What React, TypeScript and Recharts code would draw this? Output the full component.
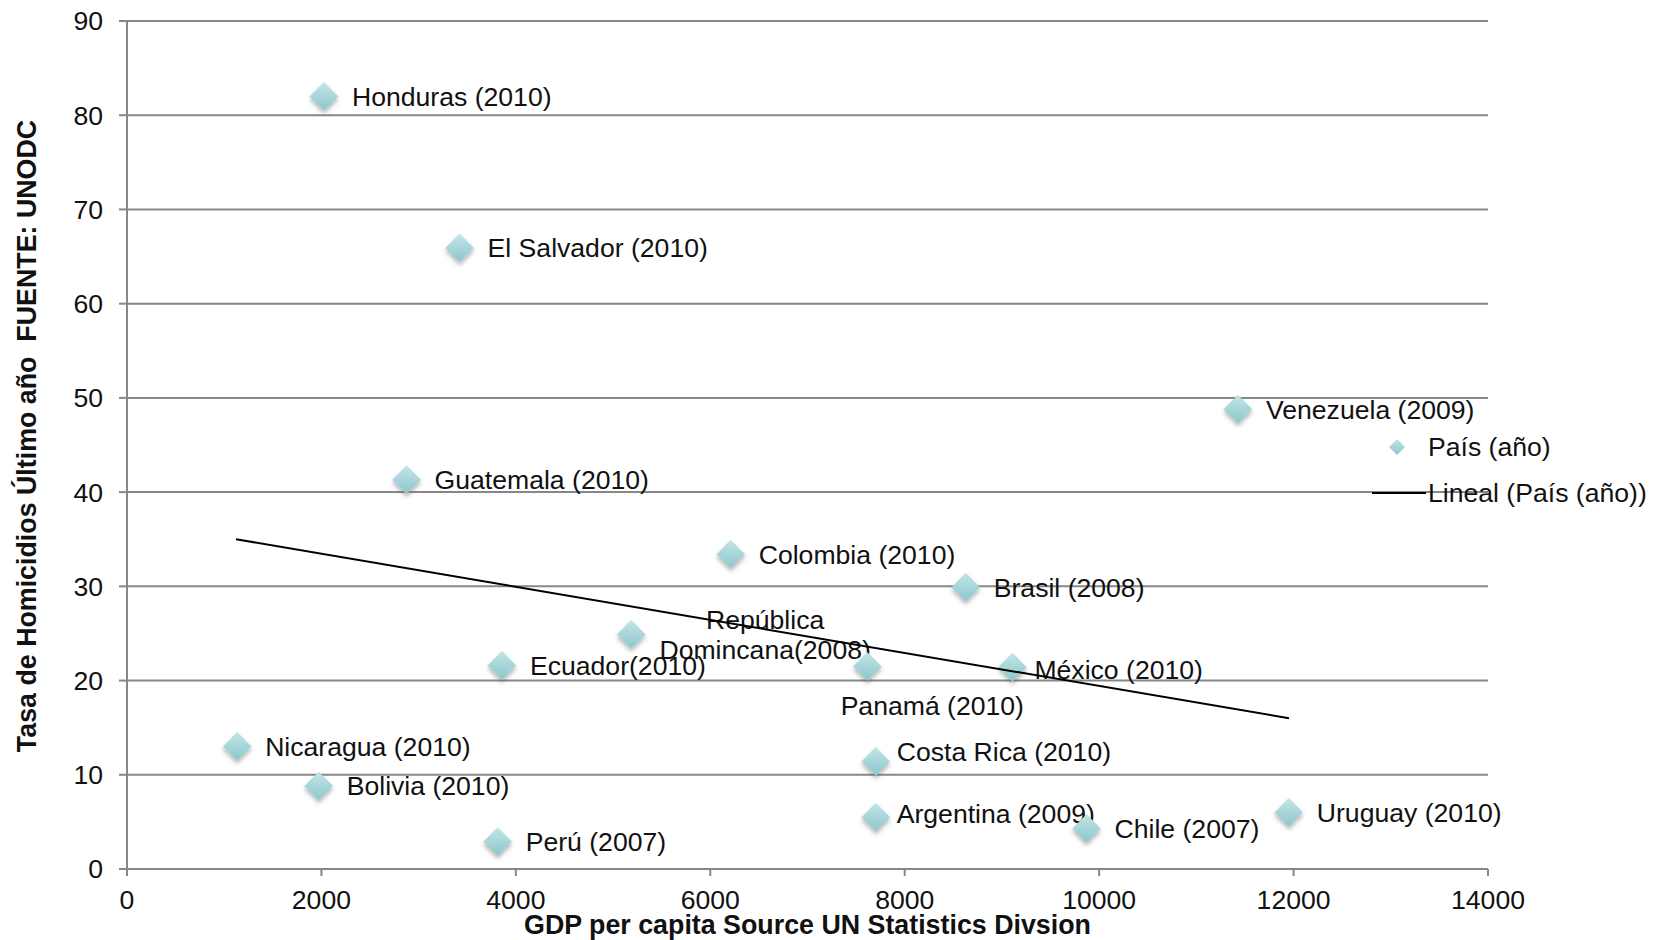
import React from 'react';
import {
  ScatterChart,
  Scatter,
  XAxis,
  YAxis,
  CartesianGrid,
  Label,
} from 'recharts';

// Country labels (year of the latest homicide figure)
const countries = [
  'Honduras (2010)',
  'El Salvador (2010)',
  'Guatemala (2010)',
  'Colombia (2010)',
  'Brasil (2008)',
  'República\nDomincana(2008)',
  'Ecuador(2010)',
  'Panamá (2010)',
  'México (2010)',
  'Venezuela (2009)',
  'Nicaragua (2010)',
  'Bolivia (2010)',
  'Costa Rica (2010)',
  'Argentina (2009)',
  'Chile (2007)',
  'Uruguay (2010)',
  'Perú (2007)',
];

// GDP per capita (US$)
const gdpPerCapita = [
  2026, 3421, 2876, 6210, 8628, 5186, 3857, 7615, 9108, 11428, 1133, 1972, 7702, 7702, 9870, 11951,
  3813,
];

// Homicide rate per 100,000 inhabitants
const homicideRate = [
  82.0, 65.9, 41.3, 33.4, 29.9, 24.9, 21.6, 21.5, 21.4, 48.8, 13.0, 8.8, 11.4, 5.5, 4.3, 6.0, 2.9,
];

// Linear trend end points (x = GDP per capita, y = homicide rate)
const trendX = [1121, 11953];
const trendY = [35.0, 16.0];

const xTicks = [0, 2000, 4000, 6000, 8000, 10000, 12000, 14000];
const yTicks = [0, 10, 20, 30, 40, 50, 60, 70, 80, 90];

const legendLabels = ['País (año)', 'Lineal (País (año))'];
const xTitle = 'GDP per capita Source UN Statistics Divsion';
const yTitle = 'Tasa de Homicidios Último año  FUENTE: UNODC';

const points = countries.map((name, i) => ({ x: gdpPerCapita[i], y: homicideRate[i], name }));
const trend = trendX.map((x, i) => ({ x, y: trendY[i] }));

// Placement of each data label relative to its marker
type Placement = { dx: number; dy: number; anchor?: 'start' | 'middle'; lineGap?: number };
const DEFAULT_PLACEMENT: Placement = { dx: 28, dy: 0 };
const placements: Record<string, Placement> = {
  'Panamá (2010)': { dx: 65, dy: 39, anchor: 'middle' },
  'República\nDomincana(2008)': { dx: 134, dy: 0, anchor: 'middle', lineGap: 30 },
  'México (2010)': { dx: 22, dy: 2 },
  'Costa Rica (2010)': { dx: 21, dy: -10 },
  'Argentina (2009)': { dx: 21, dy: -3 },
};

const FONT = '"Liberation Sans", Arial, Helvetica, sans-serif';
const AXIS_GRAY = '#878787';
const LABEL_SIZE = 26.6;
const TITLE_SIZE = 26.8;
const W = 1661;
const H = 940;

const diamondPath = (cx: number, cy: number, rx: number, ry: number) =>
  `M${cx},${cy - ry} L${cx + rx},${cy} L${cx},${cy + ry} L${cx - rx},${cy} Z`;

const CountryMarker = (props: any) => {
  const { cx, cy, payload } = props;
  if (cx == null || cy == null) return <g />;
  const name: string = payload.name;
  const p = placements[name] || DEFAULT_PLACEMENT;
  const lines = name.split('\n');
  const gap = p.lineGap ?? 30;
  const startDy = p.dy - ((lines.length - 1) * gap) / 2;
  return (
    <g>
      <path
        d={diamondPath(cx, cy, 14, 14)}
        fill="url(#diamondFill)"
        stroke="#a9d8dc"
        strokeWidth={0.5}
        filter="url(#diamondShadow)"
      />
      {lines.map((line, k) => (
        <text
          key={k}
          x={cx + p.dx}
          y={cy + startDy + k * gap}
          dy="0.35em"
          textAnchor={p.anchor || 'start'}
          fontFamily={FONT}
          fontSize={LABEL_SIZE}
          fill="#111"
        >
          {line}
        </text>
      ))}
    </g>
  );
};

const NoMarker = () => <g />;

export default function App() {
  return (
    <div style={{ position: 'absolute', left: 0, top: 0, width: W, height: H, background: '#fff' }}>
      <ScatterChart
        width={W}
        height={H}
        margin={{ top: 21, right: 173, bottom: 0, left: 0 }}
      >
        <defs>
          <linearGradient id="diamondFill" x1="0" y1="0" x2="0" y2="1">
            <stop offset="0%" stopColor="#c2e5e8" />
            <stop offset="100%" stopColor="#8cc6cb" />
          </linearGradient>
          <filter id="diamondShadow" x="-50%" y="-50%" width="200%" height="200%">
            <feDropShadow dx="0" dy="3" stdDeviation="2" floodColor="#5a5a5a" floodOpacity="0.45" />
          </filter>
        </defs>
        <CartesianGrid vertical={false} stroke={AXIS_GRAY} strokeWidth={2} />
        <XAxis
          type="number"
          dataKey="x"
          domain={[0, 14000]}
          ticks={xTicks}
          interval={0}
          height={71}
          tickSize={7}
          tickMargin={14}
          axisLine={{ stroke: AXIS_GRAY, strokeWidth: 2 }}
          tickLine={{ stroke: AXIS_GRAY, strokeWidth: 2 }}
          tick={{ fill: '#111', fontSize: LABEL_SIZE, fontFamily: FONT }}
        >
          <Label
            value={xTitle}
            position="insideBottom"
            offset={6}
            style={{ fontFamily: FONT, fontSize: TITLE_SIZE, fontWeight: 'bold', fill: '#111' }}
          />
        </XAxis>
        <YAxis
          type="number"
          dataKey="y"
          domain={[0, 90]}
          ticks={yTicks}
          interval={0}
          width={127}
          tickSize={8}
          tickMargin={16}
          axisLine={{ stroke: AXIS_GRAY, strokeWidth: 2 }}
          tickLine={{ stroke: AXIS_GRAY, strokeWidth: 2 }}
          tick={{ fill: '#111', fontSize: LABEL_SIZE, fontFamily: FONT }}
        >
          <Label
            content={() => (
              <text
                transform="translate(27,436) rotate(-90)"
                textAnchor="middle"
                dy="0.35em"
                fontFamily={FONT}
                fontSize={TITLE_SIZE}
                fontWeight="bold"
                fill="#111"
                style={{ whiteSpace: 'pre' }}
              >
                {yTitle}
              </text>
            )}
          />
        </YAxis>
        <Scatter
          name={legendLabels[0]}
          data={points}
          shape={CountryMarker}
          isAnimationActive={false}
        />
        <Scatter
          name={legendLabels[1]}
          data={trend}
          line={{ stroke: '#000', strokeWidth: 2 }}
          shape={NoMarker}
          isAnimationActive={false}
        />
      </ScatterChart>

      {/* Legend */}
      <svg
        width={W}
        height={H}
        style={{ position: 'absolute', left: 0, top: 0, pointerEvents: 'none' }}
      >
        <defs>
          <linearGradient id="legendDiamondFill" x1="0" y1="0" x2="0" y2="1">
            <stop offset="0%" stopColor="#c2e5e8" />
            <stop offset="100%" stopColor="#8cc6cb" />
          </linearGradient>
        </defs>
        <path d={diamondPath(1397, 447, 8, 8)} fill="url(#legendDiamondFill)" />
        <text x={1428} y={447} dy="0.35em" fontFamily={FONT} fontSize={LABEL_SIZE} fill="#111">
          {legendLabels[0]}
        </text>
        <line x1={1372} y1={493} x2={1426} y2={493} stroke="#000" strokeWidth={2} />
        <text x={1428} y={493} dy="0.35em" fontFamily={FONT} fontSize={LABEL_SIZE} fill="#111">
          {legendLabels[1]}
        </text>
      </svg>
    </div>
  );
}
